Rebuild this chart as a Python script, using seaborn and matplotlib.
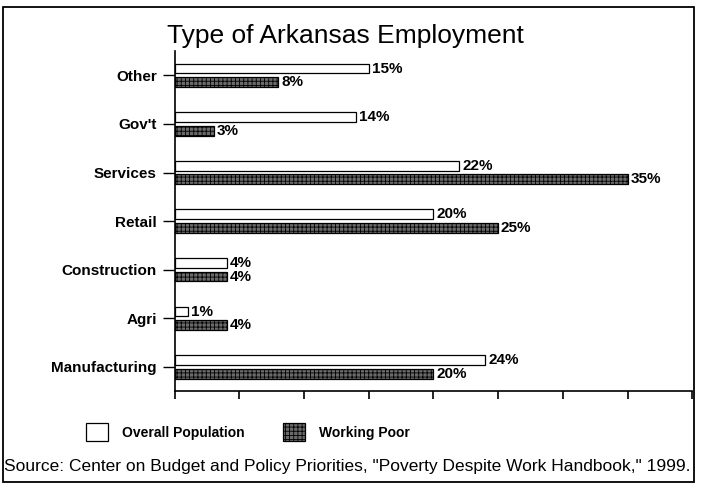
import matplotlib
matplotlib.use("Agg")
import matplotlib.pyplot as plt
import matplotlib.patches as mpatches
import seaborn as sns
import pandas as pd

categories = ["Other", "Gov't", "Services", "Retail", "Construction", "Agri", "Manufacturing"]
overall_population = [15, 14, 22, 20, 4, 1, 24]
working_poor = [8, 3, 35, 25, 4, 4, 20]
series_names = ["Overall Population", "Working Poor"]
x_ticks = [0, 5, 10, 15, 20, 25, 30, 35, 40]

rows = []
for cat, ov, wp in zip(categories, overall_population, working_poor):
    rows.append({"Category": cat, "Series": series_names[0], "Value": ov})
    rows.append({"Category": cat, "Series": series_names[1], "Value": wp})
df = pd.DataFrame(rows)

sns.set_style("white")
plt.rcParams["font.family"] = ["Liberation Sans", "DejaVu Sans"]
plt.rcParams["hatch.linewidth"] = 0.6
plt.rcParams["text.color"] = "black"
plt.rcParams["xtick.color"] = "black"
plt.rcParams["ytick.color"] = "black"

fig = plt.figure(figsize=(7.02, 4.86), dpi=100)
ax = fig.add_axes([0.249, 0.195, 0.737, 0.70])

sns.barplot(data=df, y="Category", x="Value", hue="Series", order=categories,
            hue_order=series_names, orient="h", width=0.56, gap=0.28,
            palette=["white", "#6a6a6a"], edgecolor="black", linewidth=0.9,
            legend=False, ax=ax)

for bar in ax.containers[1]:
    bar.set_hatch("++++")

for cont in ax.containers:
    ax.bar_label(cont, fmt="{:g}%", padding=2, fontsize=11, fontweight="bold",
                 color="black")

ax.set_xlim(0, 40)
ax.set_ylim(6.5, -0.5)
ax.set_xticks(x_ticks)
ax.set_xticklabels([])
ax.set_xlabel("")
ax.set_ylabel("")
ax.tick_params(axis="x", direction="out", length=6, width=1.2, bottom=True)
ax.tick_params(axis="y", direction="out", length=9, width=1.0, left=True, pad=4)
for lbl in ax.get_yticklabels():
    lbl.set_fontsize(11)
    lbl.set_fontweight("bold")
    lbl.set_color("black")
sns.despine(ax=ax, top=True, right=True)
ax.spines["left"].set_linewidth(1.2)
ax.spines["bottom"].set_linewidth(1.2)
ax.spines["left"].set_color("black")
ax.spines["bottom"].set_color("black")

fig.text(0.492, 0.926, "Type of Arkansas Employment", ha="center", va="center",
         fontsize=19, color="black")

handles = [mpatches.Patch(facecolor="white", edgecolor="black", linewidth=0.9),
           mpatches.Patch(facecolor="#6a6a6a", edgecolor="black", hatch="++++", linewidth=0.9)]
fig.legend(handles, series_names, loc="center left", bbox_to_anchor=(0.104, 0.111),
           ncol=2, frameon=False, handlelength=1.6, handleheight=1.6,
           columnspacing=2.8, handletextpad=1.0,
           prop={"size": 10, "weight": "bold"})

fig.text(0.006, 0.04, "Source: Center on Budget and Policy Priorities, \"Poverty Despite Work Handbook,\" 1999.",
         ha="left", va="center", fontsize=12.5, color="black")

fig.patches.append(mpatches.Rectangle((0.004, 0.008), 0.984, 0.978, transform=fig.transFigure,
                                      fill=False, edgecolor="black", linewidth=1.3))

fig.savefig("out.png", dpi=100)
